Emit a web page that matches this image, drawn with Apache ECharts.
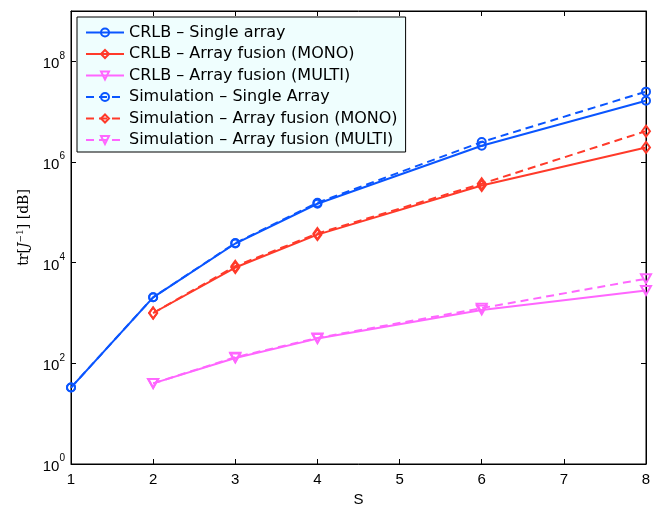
<!DOCTYPE html>
<html>
<head>
<meta charset="utf-8">
<script src="https://cdn.jsdelivr.net/npm/echarts@6/dist/echarts.min.js"></script>
<style>
  html, body { margin: 0; padding: 0; background: #fff; }
  #chart { width: 663px; height: 506px; }
</style>
</head>
<body>
<div id="chart"></div>
<script>
// Number of arrays S at which each curve is evaluated
const sensorsSingle = [1, 2, 3, 4, 6, 8];
const sensorsFusion = [2, 3, 4, 6, 8];

// tr(J^-1) values
const crlbSingle = [33, 2050, 24000, 148000, 2.1e6, 1.65e7];
const crlbMono = [1000, 8000, 36000, 340000, 1.95e6];
const crlbMulti = [40, 128, 310, 1150, 2800];
const simSingle = [33, 2050, 24500, 155000, 2.5e6, 2.5e7];
const simMono = [1000, 8500, 38000, 370000, 4.1e6];
const simMulti = [40, 132, 320, 1250, 4800];

const seriesNames = [
  'CRLB \u2013 Single array',
  'CRLB \u2013 Array fusion (MONO)',
  'CRLB \u2013 Array fusion (MULTI)',
  'Simulation \u2013 Single Array',
  'Simulation \u2013 Array fusion (MONO)',
  'Simulation \u2013 Array fusion (MULTI)'
];

const BLUE = '#0a55ff';
const RED = '#ff3a2a';
const PINK = '#ff66ff';
const FONT = '"Liberation Sans", Arial, sans-serif';
const LEGEND_FONT = '"DejaVu Sans", "Liberation Sans", sans-serif';
const SERIF = '"DejaVu Serif", "Liberation Serif", serif';

function pairs(xs, ys) {
  return xs.map((x, i) => [x, ys[i]]);
}

function makeSeries(name, xs, ys, color, symbol, dashed) {
  return {
    name: name,
    type: 'line',
    data: pairs(xs, ys),
    symbol: symbol.type,
    symbolSize: symbol.size,
    symbolRotate: symbol.rotate || 0,
    showAllSymbol: true,
    lineStyle: { color: color, width: 2, type: dashed ? [8, 5] : 'solid' },
    itemStyle: { color: 'rgba(255,255,255,0)', borderColor: color, borderWidth: 2 },
    emphasis: { disabled: true },
    z: dashed ? 3 : 2,
    animation: false
  };
}

const circle = { type: 'circle', size: 8 };
const diamond = { type: 'diamond', size: [8, 11] };
const triangle = { type: 'triangle', size: [10, 9], rotate: 180 };

// Only even decades carry a label: 10^0, 10^2, ...
function powerLabel(v) {
  const e = Math.round(Math.log10(v));
  if (e % 2 !== 0) return '';
  return '{b|10}{s|' + e + '}';
}

const chart = echarts.init(document.getElementById('chart'), null, { renderer: 'canvas' });

chart.setOption({
  animation: false,
  backgroundColor: '#ffffff',
  textStyle: { fontFamily: FONT },
  grid: {
    left: 71, right: 17, top: 11, bottom: 42,
    outerBoundsMode: 'none',
    show: true, borderColor: '#000', borderWidth: 1, backgroundColor: 'transparent'
  },
  legend: {
    orient: 'vertical',
    left: 77, top: 17,
    padding: [7.5, 8, 4, 8],
    itemWidth: 38, itemHeight: 10, itemGap: 5.5,
    backgroundColor: '#effefe',
    borderColor: '#000', borderWidth: 1,
    textStyle: { fontFamily: LEGEND_FONT, fontSize: 16, color: '#000' },
    data: seriesNames
  },
  xAxis: [
    {
      type: 'value', min: 1, max: 8, interval: 1,
      name: 'S', nameLocation: 'middle', nameGap: 23,
      nameTextStyle: { fontFamily: FONT, fontSize: 15, color: '#000' },
      axisLine: { show: true, lineStyle: { color: '#000', width: 1 } },
      axisTick: { inside: true, length: 5, lineStyle: { color: '#000' } },
      axisLabel: { fontFamily: FONT, fontSize: 15, color: '#000', margin: 8 },
      splitLine: { show: false }
    },
    {
      type: 'value', min: 1, max: 8, interval: 1, position: 'top',
      axisLine: { show: true, lineStyle: { color: '#000', width: 1 } },
      axisTick: { inside: true, length: 5, lineStyle: { color: '#000' } },
      axisLabel: { show: false },
      splitLine: { show: false }
    }
  ],
  yAxis: [
    {
      type: 'log', logBase: 10, min: 1, max: 1e9, interval: 2,
      name: '{r|tr[}{i|J}{sup|\u22121}{r|] [dB]}',
      nameLocation: 'middle', nameGap: 36, nameRotate: 90,
      nameTextStyle: {
        color: '#000',
        padding: [0, 0, 0, 20],
        rich: {
          r: { fontFamily: SERIF, fontSize: 14, color: '#000' },
          i: { fontFamily: SERIF, fontStyle: 'italic', fontSize: 14, color: '#000' },
          sup: { fontFamily: SERIF, fontSize: 9, color: '#000', verticalAlign: 'top', padding: [0, 0, 8, 0] }
        }
      },
      axisLine: { show: true, lineStyle: { color: '#000', width: 1 } },
      axisTick: { inside: true, length: 5, lineStyle: { color: '#000' } },
      axisLabel: {
        formatter: powerLabel, margin: 6,
        rich: {
          b: { fontFamily: FONT, fontSize: 15, color: '#000', padding: [6, 0, 0, 0] },
          s: { fontFamily: FONT, fontSize: 10, color: '#000', verticalAlign: 'top', padding: [0, 0, 6, 0] }
        }
      },
      splitLine: { show: false }
    },
    {
      type: 'log', logBase: 10, min: 1, max: 1e9, interval: 2, position: 'right',
      axisLine: { show: true, lineStyle: { color: '#000', width: 1 } },
      axisTick: { inside: true, length: 5, lineStyle: { color: '#000' } },
      axisLabel: { show: false },
      splitLine: { show: false }
    }
  ],
  series: [
    makeSeries(seriesNames[0], sensorsSingle, crlbSingle, BLUE, circle, false),
    makeSeries(seriesNames[1], sensorsFusion, crlbMono, RED, diamond, false),
    makeSeries(seriesNames[2], sensorsFusion, crlbMulti, PINK, triangle, false),
    makeSeries(seriesNames[3], sensorsSingle, simSingle, BLUE, circle, true),
    makeSeries(seriesNames[4], sensorsFusion, simMono, RED, diamond, true),
    makeSeries(seriesNames[5], sensorsFusion, simMulti, PINK, triangle, true)
  ]
});
</script>
</body>
</html>
